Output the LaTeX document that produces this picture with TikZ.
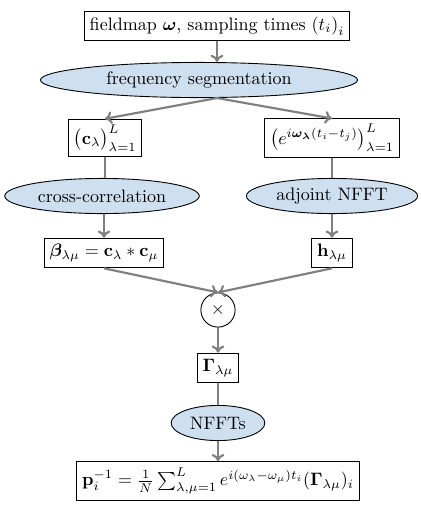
\documentclass[tikz,border=0pt]{standalone}
\usepackage{amsmath,amssymb,bm}
\usetikzlibrary{shapes.geometric,arrows.meta}
\definecolor{ellfill}{RGB}{206,223,240}
\tikzset{
  box/.style={draw=black, line width=0.5pt, fill=white, inner sep=3pt, minimum height=16.5pt},
  proc/.style={draw=black, line width=0.5pt, fill=ellfill, ellipse, inner sep=0pt, minimum height=19.5pt},
  mult/.style={draw=black, line width=0.5pt, circle, fill=white, minimum size=19pt, inner sep=0pt},
  conn/.style={draw=black!50, line width=1.2pt},
  arr/.style={conn, -{To[length=4pt,width=7pt,line width=1.2pt]}}
}
\begin{document}
\begin{tikzpicture}[x=0.555pt,y=-0.555pt]
\useasboundingbox (0,0) rectangle (421,506);
\node[box] (in) at (217,26) {fieldmap $\bm{\omega}$, sampling times $\left(t_i\right)_i$};
\node[proc, minimum width=176pt] (seg) at (199,80) {frequency segmentation};
\node[box, minimum height=20.5pt] (c) at (105,138) {$\bigl(\mathbf{c}_\lambda\bigr)_{\lambda=1}^L$};
\node[box, minimum height=20.5pt] (e) at (332,138) {$\left(e^{i\bm{\omega}_{\bm{\lambda}}(t_i-t_j)}\right)_{\lambda=1}^L$};
\node[proc, minimum width=108pt] (cc) at (102,196) {cross-correlation};
\node[proc, minimum width=95pt] (ad) at (332,196) {adjoint NFFT};
\node[box] (beta) at (104,253) {$\bm{\beta}_{\lambda\mu}=\mathbf{c}_\lambda\ast\mathbf{c}_\mu$};
\node[box] (h) at (332,253) {$\mathbf{h}_{\lambda\mu}$};
\node[mult] (x) at (218,310) {$\times$};
\node[box] (G) at (218,368) {$\mathbf{\Gamma}_{\lambda\mu}$};
\node[proc, minimum width=52pt] (nf) at (218,423) {NFFTs};
\node[box, minimum height=21.5pt] (p) at (218,481) {$\mathbf{p}_i^{-1}=\frac{1}{N}\sum_{\lambda,\mu=1}^{L}e^{i(\omega_\lambda-\omega_\mu)t_i}(\mathbf{\Gamma}_{\lambda\mu})_i$};
\draw[arr] (in.south) -- (seg.north -| in.south);
\draw[arr] (seg.south -| in.south) -- (c.north);
\draw[arr] (seg.south -| in.south) -- (e.north);
\draw[conn] (c.south) -- (cc.north -| c.south);
\draw[conn] (e.south) -- (ad.north);
\draw[arr] (cc.south -| beta.north) -- (beta.north);
\draw[arr] (ad.south) -- (h.north);
\draw[arr] (beta.south) -- (x.north);
\draw[arr] (h.south) -- (x.north);
\draw[arr] (x.south) -- (G.north);
\draw[conn] (G.south) -- (nf.north);
\draw[arr] (nf.south) -- (p.north);
\end{tikzpicture}
\end{document}
